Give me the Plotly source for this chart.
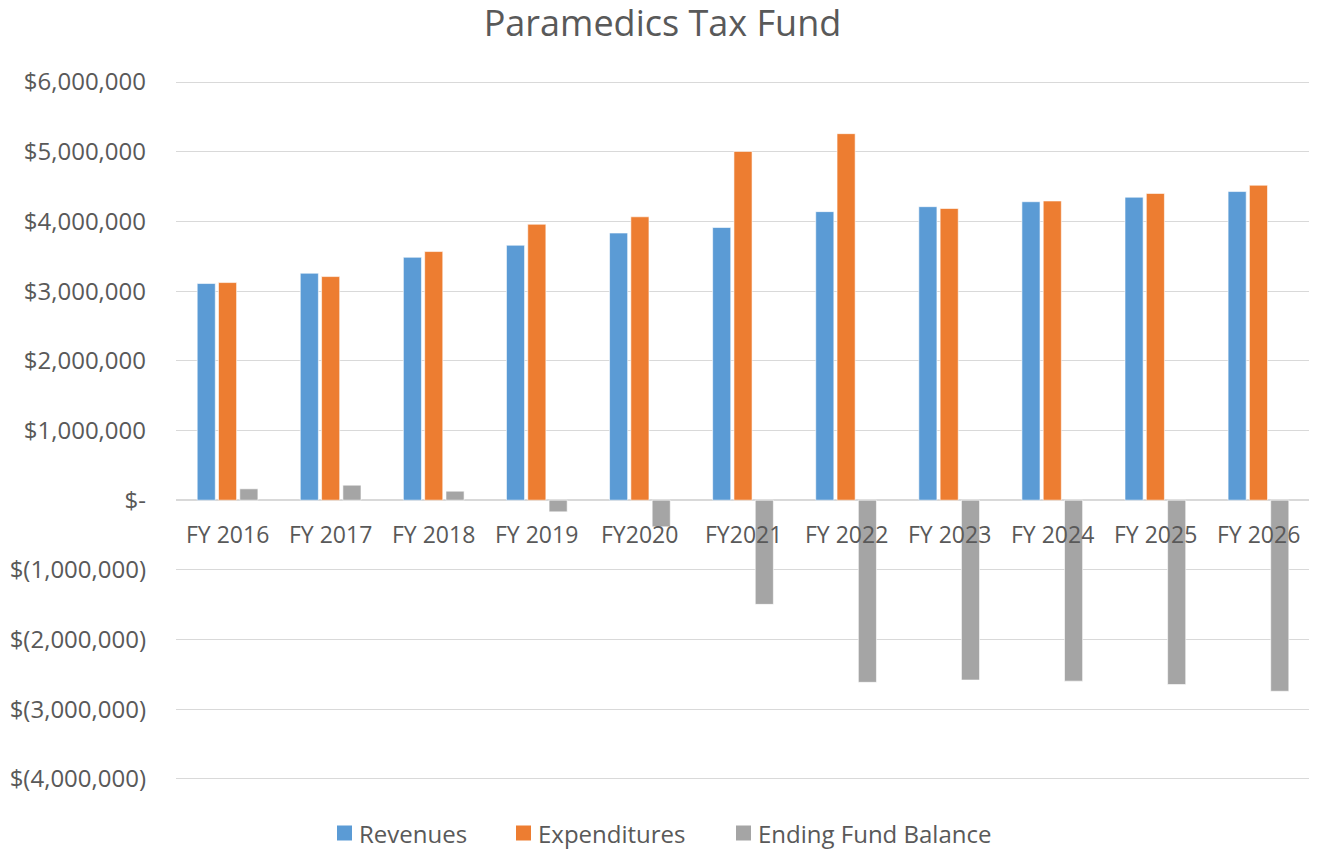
import plotly.graph_objects as go

categories = ["FY 2016", "FY 2017", "FY 2018", "FY 2019", "FY2020", "FY2021",
              "FY 2022", "FY 2023", "FY 2024", "FY 2025", "FY 2026"]
revenues = [3109000, 3257000, 3486000, 3659000, 3834000, 3913000,
            4141000, 4212000, 4283000, 4348000, 4429000]
expenditures = [3123000, 3209000, 3568000, 3960000, 4067000, 5005000,
                5260000, 4186000, 4294000, 4402000, 4520000]
ending_balance = [163000, 215000, 129000, -167000, -382000, -1495000,
                  -2614000, -2581000, -2597000, -2645000, -2742000]

tick_vals = [6000000, 5000000, 4000000, 3000000, 2000000, 1000000, 0,
             -1000000, -2000000, -3000000, -4000000]
tick_text = ["$6,000,000", "$5,000,000", "$4,000,000", "$3,000,000", "$2,000,000",
             "$1,000,000", "$-", "$(1,000,000)", "$(2,000,000)", "$(3,000,000)",
             "$(4,000,000)"]

series_names = ["Revenues", "Expenditures", "Ending Fund Balance"]
series_colors = ["#5B9BD5", "#ED7D31", "#A5A5A5"]

FONT = "Open Sans"
TXT = "#595959"
OFF = 8  # page body margin offset
W, H = 1317 - OFF, 849 - OFF
ML, MR, MT, MB = 176 - OFF, 7, 82 - OFF - 2, 68

fig = go.Figure()
for name, vals, col in zip(series_names, [revenues, expenditures, ending_balance], series_colors):
    fig.add_trace(go.Bar(x=categories, y=vals, name=name, showlegend=False,
                         marker=dict(color=col, line=dict(color="white", width=0.6))))

for c in categories:
    fig.add_annotation(x=c, y=0, xref="x", yref="y", text=c, showarrow=False,
                       yanchor="top", yshift=-16,
                       font=dict(family=FONT, size=23, color=TXT))

# manual legend (paper coordinates computed from screen pixel layout)
pw = W - ML - MR
ph = H - MT - MB
def px_x(p):
    return (p - OFF - ML) / pw
def px_y(p):
    return (H - MB - (p - OFF)) / ph

legend_sq_x = [337, 516, 736]
leg_y = 833
for name, col, sx in zip(series_names, series_colors, legend_sq_x):
    fig.add_shape(type="rect", xref="paper", yref="paper",
                  x0=px_x(sx), x1=px_x(sx + 15), y0=px_y(leg_y + 7.5), y1=px_y(leg_y - 7.5),
                  fillcolor=col, line=dict(width=0))
    fig.add_annotation(x=px_x(sx + 20), y=px_y(leg_y), xref="paper", yref="paper",
                       text=name, showarrow=False, xanchor="left", yanchor="middle",
                       font=dict(family=FONT, size=24, color=TXT))

fig.update_layout(
    width=W, height=H,
    paper_bgcolor="white", plot_bgcolor="white",
    margin=dict(l=ML, r=MR, t=MT, b=MB, autoexpand=False),
    barmode="group", bargap=0.38, bargroupgap=0.15,
    showlegend=False,
    title=dict(text="Paramedics Tax Fund", x=0.5, xanchor="center",
               y=0.982, yanchor="middle",
               font=dict(family=FONT, size=36, color=TXT)),
    xaxis=dict(showticklabels=False, showgrid=False, showline=False, zeroline=False),
    yaxis=dict(range=[-4030000, 6030000], tickvals=tick_vals, ticktext=tick_text,
               showgrid=True, gridcolor="#D9D9D9", gridwidth=1,
               zeroline=True, zerolinecolor="#D9D9D9", zerolinewidth=1.5,
               showline=False, ticks="", ticklabelstandoff=29, automargin=False,
               tickfont=dict(family=FONT, size=24, color=TXT)),
)

fig.write_html("out.html")
